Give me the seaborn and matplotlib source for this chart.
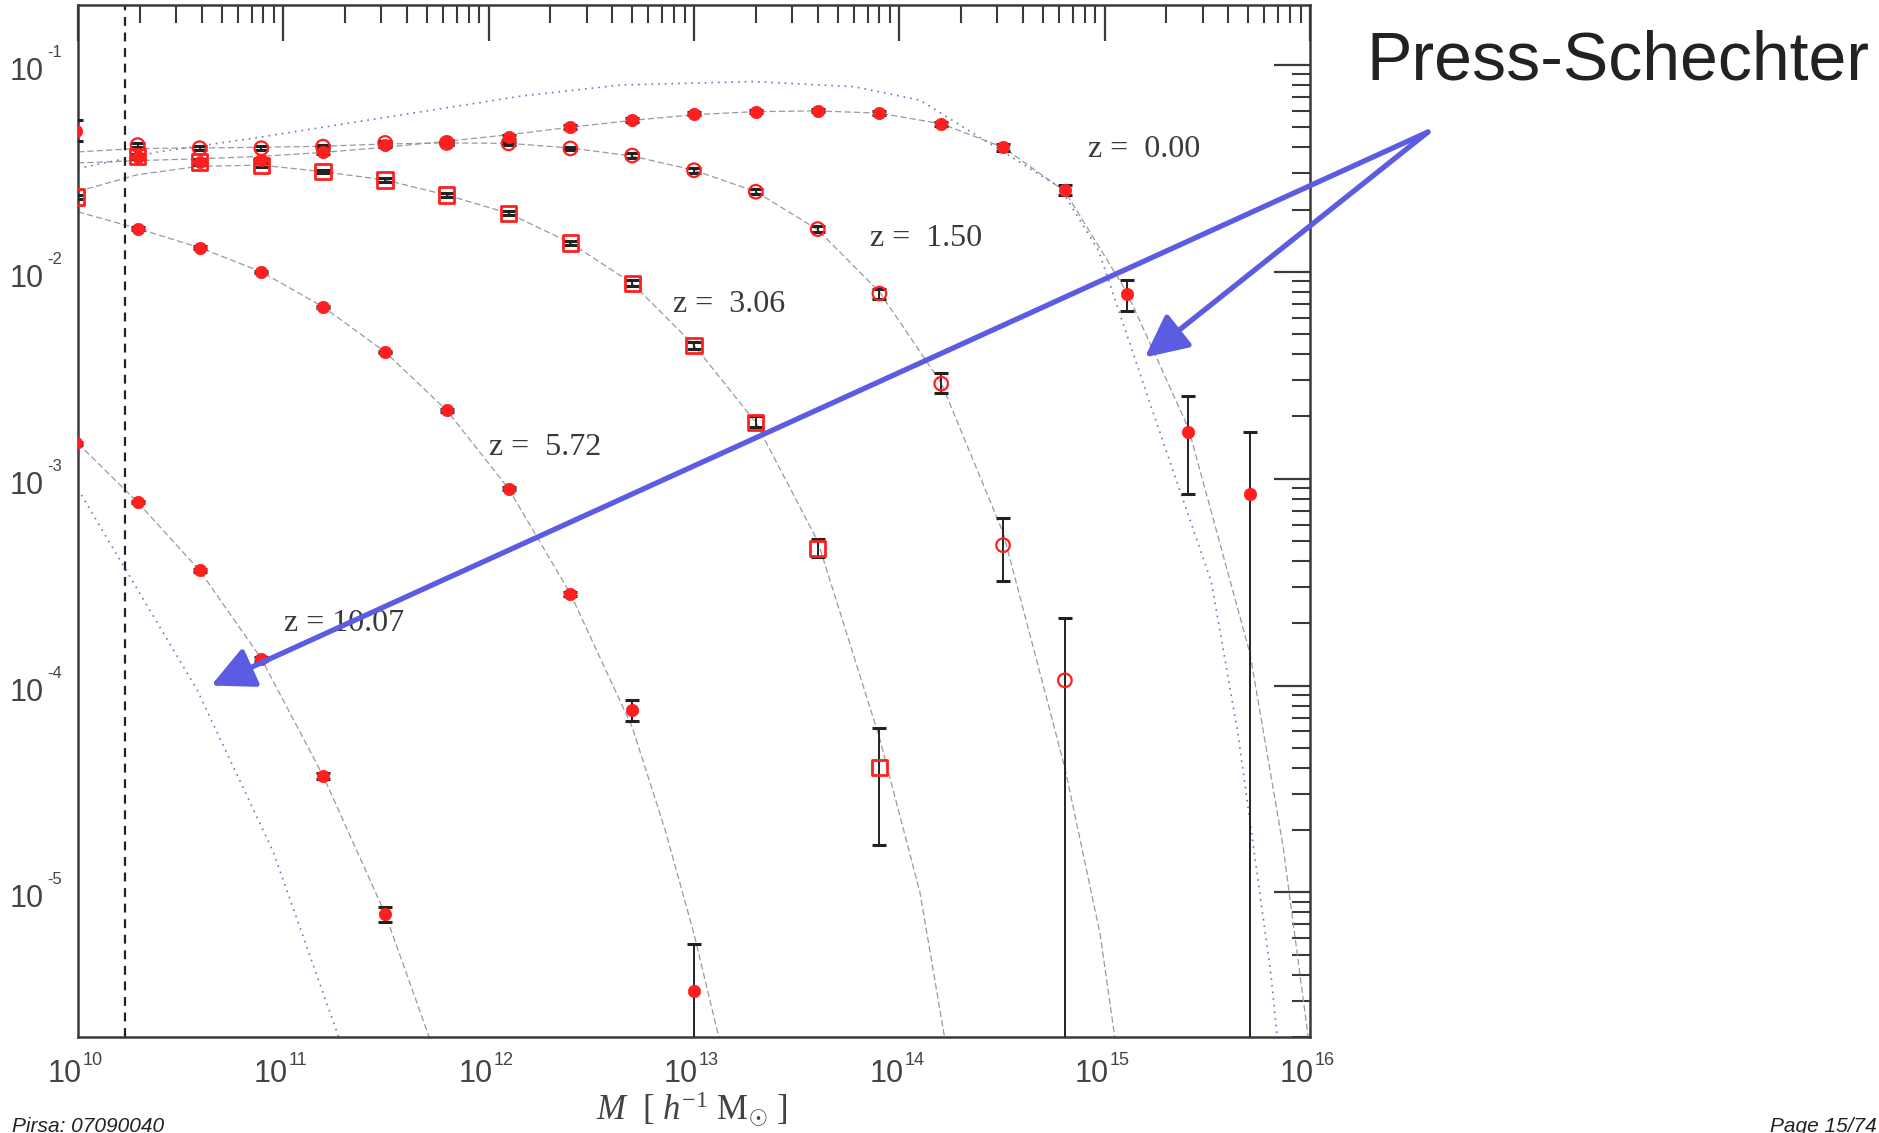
import numpy as np
import matplotlib
matplotlib.use("Agg")
import matplotlib.pyplot as plt
import seaborn as sns
from matplotlib.ticker import FixedLocator, NullFormatter, LogLocator

# ---------------- data ----------------
# halo masses of the simulation bins [h^-1 Msun] and the measured mass function
z000_m = [9.77e9, 1.95e10, 3.91e10, 7.81e10, 1.56e11, 3.13e11, 6.25e11, 1.25e12, 2.5e12, 5.0e12,
          1.0e13, 2.0e13, 4.0e13, 8.0e13, 1.6e14, 3.2e14, 6.4e14, 1.28e15, 2.56e15, 5.12e15]
z000_f = [0.048, 0.036, 0.034, 0.0347, 0.0381, 0.041, 0.0426, 0.045, 0.0503, 0.0542,
          0.058, 0.0595, 0.060, 0.0584, 0.052, 0.040, 0.0248, 0.00785, 0.00168, 0.00084]
z000_lo = [0.043, 0.035, 0.033, 0.0338, 0.0372, 0.040, 0.0416, 0.044, 0.0492, 0.0532,
           0.0570, 0.0585, 0.0590, 0.0572, 0.0508, 0.0385, 0.0234, 0.00646, 0.00084, 1e-8]
z000_hi = [0.054, 0.037, 0.035, 0.0356, 0.0390, 0.042, 0.0436, 0.046, 0.0514, 0.0552,
           0.0590, 0.0605, 0.0610, 0.0596, 0.0532, 0.0415, 0.0262, 0.00912, 0.00252, 0.00169]

z150_m = [1.95e10, 3.91e10, 7.81e10, 1.56e11, 3.13e11, 6.25e11, 1.25e12, 2.5e12, 5.0e12,
          1.0e13, 2.0e13, 4.0e13, 8.0e13, 1.6e14, 3.2e14, 6.4e14]
z150_f = [0.041, 0.0396, 0.0396, 0.0403, 0.042, 0.042, 0.0418, 0.0395, 0.0365,
          0.031, 0.0244, 0.0161, 0.00785, 0.00288, 4.77e-4, 1.06e-4]
z150_lo = [0.0402, 0.0388, 0.0388, 0.0395, 0.0412, 0.0412, 0.0410, 0.0387, 0.0356,
           0.0302, 0.0237, 0.0155, 0.00740, 0.00259, 3.19e-4, 1e-8]
z150_hi = [0.0418, 0.0404, 0.0404, 0.0411, 0.0428, 0.0428, 0.0426, 0.0403, 0.0374,
           0.0318, 0.0251, 0.0167, 0.00830, 0.00324, 6.49e-4, 2.13e-4]

z306_m = [9.77e9, 1.95e10, 3.91e10, 7.81e10, 1.56e11, 3.13e11, 6.25e11, 1.25e12, 2.5e12,
          5.0e12, 1.0e13, 2.0e13, 4.0e13, 8.0e13]
z306_f = [0.023, 0.036, 0.034, 0.0328, 0.0305, 0.0278, 0.0235, 0.0192, 0.0138,
          0.0088, 0.00442, 0.00187, 4.6e-4, 4.03e-5]
z306_lo = [0.0225, 0.0353, 0.0333, 0.0321, 0.0299, 0.0272, 0.0230, 0.0188, 0.0135,
           0.0085, 0.00425, 0.00178, 4.17e-4, 1.70e-5]
z306_hi = [0.0235, 0.0367, 0.0347, 0.0335, 0.0311, 0.0284, 0.0240, 0.0196, 0.0141,
           0.0091, 0.00460, 0.00200, 5.13e-4, 6.22e-5]

z572_m = [1.95e10, 3.91e10, 7.81e10, 1.56e11, 3.13e11, 6.25e11, 1.25e12, 2.5e12, 5.0e12, 1.0e13]
z572_f = [0.0162, 0.0131, 0.0100, 0.00678, 0.0041, 0.00214, 8.95e-4, 2.78e-4, 7.6e-5, 3.35e-6]
z572_lo = [0.0160, 0.0129, 0.0099, 0.00670, 0.00405, 0.00211, 8.8e-4, 2.72e-4, 6.73e-5, 1e-8]
z572_hi = [0.0164, 0.0133, 0.0101, 0.00686, 0.00415, 0.00217, 9.1e-4, 2.84e-4, 8.47e-5, 5.62e-6]

z1007_m = [9.77e9, 1.95e10, 3.91e10, 7.81e10, 1.56e11, 3.13e11]
z1007_f = [1.48e-3, 7.7e-4, 3.6e-4, 1.35e-4, 3.67e-5, 7.9e-6]
z1007_lo = [1.46e-3, 7.6e-4, 3.55e-4, 1.32e-4, 3.55e-5, 7.16e-6]
z1007_hi = [1.50e-3, 7.8e-4, 3.65e-4, 1.38e-4, 3.79e-5, 8.47e-6]

# fitted mass function curves (thin grey dashed)
fit000_m = [1.0e10, 1.95e10, 3.91e10, 7.81e10, 1.56e11, 3.13e11, 6.25e11, 1.25e12, 2.5e12, 5.0e12, 1.0e13,
            2.0e13, 4.0e13, 8.0e13, 1.6e14, 3.2e14, 6.4e14, 1.28e15, 2.56e15, 5.1e15, 7.4e15, 9.8e15]
fit000_f = [0.0336, 0.0345, 0.0352, 0.0362, 0.0378, 0.0400, 0.0428, 0.046, 0.050, 0.054, 0.0575,
            0.0595, 0.060, 0.0585, 0.052, 0.040, 0.0245, 0.0080, 1.75e-3, 1.43e-4, 1.66e-5, 2.0e-6]
fit150_m = [1.0e10, 1.95e10, 3.91e10, 7.81e10, 1.56e11, 3.13e11, 6.25e11, 1.25e12, 2.5e12, 5.0e12,
            1.0e13, 2.0e13, 4.0e13, 8.0e13, 1.6e14, 3.2e14, 6.4e14, 9.5e14, 1.12e15]
fit150_f = [0.038, 0.0395, 0.0397, 0.040, 0.0405, 0.0415, 0.042, 0.0418, 0.0397, 0.0363,
            0.031, 0.0244, 0.0160, 0.0080, 0.0029, 5.5e-4, 4.0e-5, 6.3e-6, 2.0e-6]
fit306_m = [1.0e10, 1.95e10, 3.91e10, 7.81e10, 1.56e11, 3.13e11, 6.25e11, 1.25e12, 2.5e12,
            5.0e12, 1.0e13, 2.0e13, 4.0e13, 8.0e13, 1.26e14, 1.66e14]
fit306_f = [0.0245, 0.0295, 0.0324, 0.0328, 0.0305, 0.0278, 0.0235, 0.0192, 0.0138,
            0.0088, 0.00442, 0.00187, 5.0e-4, 5.6e-5, 1.0e-5, 2.0e-6]
fit572_m = [1.0e10, 1.95e10, 3.91e10, 7.81e10, 1.56e11, 3.13e11, 6.25e11, 1.25e12, 2.5e12,
            5.0e12, 7.24e12, 1.0e13, 1.32e13]
fit572_f = [0.0195, 0.0162, 0.0131, 0.0100, 0.00678, 0.0041, 0.00214, 8.95e-4, 2.78e-4,
            6.3e-5, 2.0e-5, 6.3e-6, 2.0e-6]
fit1007_m = [1.0e10, 1.95e10, 3.91e10, 7.81e10, 1.56e11, 3.13e11, 5.13e11]
fit1007_f = [1.48e-3, 7.7e-4, 3.6e-4, 1.35e-4, 3.67e-5, 7.9e-6, 2.0e-6]

# Press-Schechter curves (dotted)
ps000_m = [1.0e10, 2.45e10, 7.08e10, 3.72e11, 1.45e12, 4.37e12, 1.95e13, 6.03e13, 1.26e14,
           3.09e14, 6.03e14, 9.33e14, 1.66e15, 3.31e15, 4.47e15, 6.46e15, 6.92e15]
ps000_f = [0.0316, 0.038, 0.0442, 0.0573, 0.0708, 0.080, 0.0832, 0.0785, 0.0676,
           0.0389, 0.0257, 0.0127, 0.00232, 3.16e-4, 5.75e-5, 3.98e-6, 2.0e-6]
ps1007_m = [1.0e10, 1.41e10, 3.8e10, 8.91e10, 1.86e11]
ps1007_f = [8.9e-4, 5.0e-4, 9.55e-5, 1.58e-5, 2.0e-6]

resolution_limit = 1.69e10

z_labels = ["z =  0.00", "z =  1.50", "z =  3.06", "z =  5.72", "z = 10.07"]
z_label_x = [8.3e14, 7.2e13, 7.9e12, 1.0e12, 1.01e11]
z_label_y = [0.0389, 0.01456, 0.00692, 1.42e-3, 2.0e-4]

xtick_vals = [1e10, 1e11, 1e12, 1e13, 1e14, 1e15, 1e16]
xtick_exps = ["10", "11", "12", "13", "14", "15", "16"]
ytick_vals = [1e-5, 1e-4, 1e-3, 1e-2, 1e-1]
ytick_exps = ["-5", "-4", "-3", "-2", "-1"]

ps_arrow_heads = [(4.45e10, 1.0e-4), (1.57e15, 3.86e-3)]

# ---------------- style ----------------
sns.set_theme(style="white")
plt.rcParams["font.family"] = ["Liberation Sans", "DejaVu Sans"]
plt.rcParams["mathtext.fontset"] = "custom"
plt.rcParams["mathtext.rm"] = "Liberation Serif"
plt.rcParams["mathtext.it"] = "Liberation Serif:italic"
plt.rcParams["mathtext.bf"] = "Liberation Serif"

RED = "#ff1f1f"
GREY = "#9a9a9a"
PSBLUE = "#7474c8"
ARROW = "#5c5ce2"
INK = "#3a3a3a"
LABEL = "#444444"

fig = plt.figure(figsize=(18.79, 11.33), dpi=100)
fig.patch.set_facecolor("white")
ax = fig.add_axes([78 / 1879, 1 - 1037 / 1133, (1310 - 78) / 1879, (1037 - 5) / 1133])
ax.set_xscale("log")
ax.set_yscale("log")
ax.set_xlim(1e10, 1e16)
ax.set_ylim(2e-6, 0.195)

# model curves
for m, f in [(fit000_m, fit000_f), (fit150_m, fit150_f), (fit306_m, fit306_f),
             (fit572_m, fit572_f), (fit1007_m, fit1007_f)]:
    sns.lineplot(x=m, y=f, ax=ax, color=GREY, lw=0.9, linestyle=(0, (5, 2.5)),
                 sort=False, estimator=None, errorbar=None, zorder=2)
for m, f in [(ps000_m, ps000_f), (ps1007_m, ps1007_f)]:
    sns.lineplot(x=m, y=f, ax=ax, color=PSBLUE, lw=1.2, linestyle=(0, (1, 3)),
                 sort=False, estimator=None, errorbar=None, zorder=2)

ax.axvline(resolution_limit, color="#222222", lw=1.6, linestyle=(0, (4, 3)), zorder=2)

# error bars
for m, f, lo, hi in [(z000_m, z000_f, z000_lo, z000_hi), (z150_m, z150_f, z150_lo, z150_hi),
                     (z306_m, z306_f, z306_lo, z306_hi), (z572_m, z572_f, z572_lo, z572_hi),
                     (z1007_m, z1007_f, z1007_lo, z1007_hi)]:
    f_a = np.array(f)
    yerr = [f_a - np.array(lo), np.array(hi) - f_a]
    ax.errorbar(m, f, yerr=yerr, fmt="none", ecolor="#222222", elinewidth=1.4,
                capsize=5, capthick=2.2, zorder=3)

# markers
sns.scatterplot(x=z000_m, y=z000_f, ax=ax, marker="o", s=80, color=RED, edgecolor=RED, linewidth=0.5, zorder=4)
sns.scatterplot(x=z150_m, y=z150_f, ax=ax, marker="o", s=95, facecolor="none", edgecolor=RED, linewidth=1.6, zorder=4)
sns.scatterplot(x=z306_m, y=z306_f, ax=ax, marker="s", s=120, facecolor="none", edgecolor=RED, linewidth=2.0, zorder=4)
sns.scatterplot(x=z572_m, y=z572_f, ax=ax, marker="o", s=80, color=RED, edgecolor=RED, linewidth=0.5, zorder=4)
sns.scatterplot(x=z1007_m, y=z1007_f, ax=ax, marker="o", s=80, color=RED, edgecolor=RED, linewidth=0.5, zorder=4)

# redshift labels
for lab, lx, ly in zip(z_labels, z_label_x, z_label_y):
    ax.text(lx, ly, lab, family=["Liberation Serif", "DejaVu Serif"], fontsize=23,
            color=INK, ha="left", va="center", zorder=5)

# axes / ticks
ax.xaxis.set_major_locator(FixedLocator(xtick_vals))
ax.yaxis.set_major_locator(FixedLocator(ytick_vals))
ax.xaxis.set_minor_locator(LogLocator(base=10, subs=np.arange(2, 10), numticks=100))
ax.yaxis.set_minor_locator(LogLocator(base=10, subs=np.arange(2, 10), numticks=100))
for axis in (ax.xaxis, ax.yaxis):
    axis.set_major_formatter(NullFormatter())
    axis.set_minor_formatter(NullFormatter())
ax.tick_params(which="both", direction="in", top=True, right=True, color=INK)
ax.tick_params(which="major", length=26, width=1.6)
ax.tick_params(which="minor", length=13, width=1.5)
for sp in ax.spines.values():
    sp.set_color(INK)
    sp.set_linewidth(1.8)
ax.grid(False)

# tick labels: big "10" with a small raised exponent
for v, e in zip(xtick_vals, xtick_exps):
    ax.annotate("10", xy=(v, 0), xycoords=("data", "axes fraction"), xytext=(-13, -45),
                textcoords="offset pixels", ha="center", va="baseline", fontsize=22,
                color=LABEL, annotation_clip=False)
    ax.annotate(e, xy=(v, 0), xycoords=("data", "axes fraction"), xytext=(5, -28),
                textcoords="offset pixels", ha="left", va="baseline", fontsize=13,
                color=LABEL, annotation_clip=False)
for v, e in zip(ytick_vals, ytick_exps):
    ax.annotate("10", xy=(0, v), xycoords=("axes fraction", "data"), xytext=(-34, -15),
                textcoords="offset pixels", ha="right", va="baseline", fontsize=22,
                color=LABEL, annotation_clip=False)
    ax.annotate(e, xy=(0, v), xycoords=("axes fraction", "data"), xytext=(-31, 8),
                textcoords="offset pixels", ha="left", va="baseline", fontsize=12,
                color=LABEL, annotation_clip=False)

# x label (at the bottom of the slide)
fig.text(692 / 1879, 13 / 1133, r"$M\ \ [\ h^{\mathrm{-1}}\ \mathrm{M}_{\odot}\ ]$", fontsize=25,
         color=LABEL, ha="center", va="baseline")

# Press-Schechter annotation
fig.text(1366 / 1879, 1 - 62 / 1133, "Press-Schechter", fontsize=49, color="#222222",
         ha="left", va="center", family=["Liberation Sans", "DejaVu Sans"])
tail = (1428 / 1879, 1 - 132 / 1133)
for head in ps_arrow_heads:
    ax.annotate("", xy=head, xycoords="data", xytext=tail, textcoords="figure fraction",
                arrowprops=dict(arrowstyle="-|>,head_length=0.45,head_width=0.22", color=ARROW,
                                lw=3.8, mutation_scale=58, shrinkA=0, shrinkB=0),
                annotation_clip=False, zorder=6)

# footer
fig.text(12 / 1879, 1 / 1133, "Pirsa: 07090040", fontsize=15, style="italic", color="#222222",
         ha="left", va="baseline")
fig.text(1877 / 1879, 1 / 1133, "Page 15/74", fontsize=15, style="italic", color="#222222",
         ha="right", va="baseline")

fig.savefig("out.png", dpi=100)
